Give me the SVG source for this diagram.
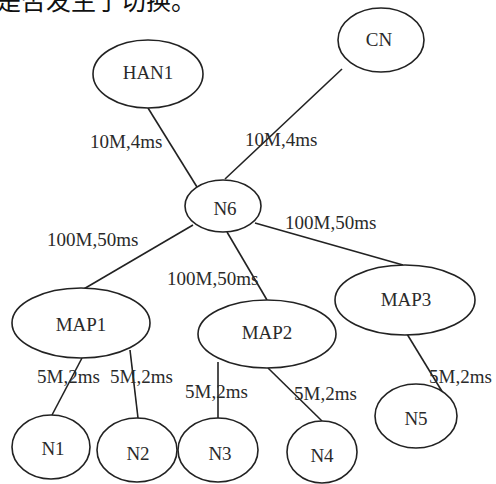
<svg xmlns="http://www.w3.org/2000/svg" width="496" height="484" viewBox="0 0 496 484">
  <style>
    .node ellipse { fill: #ffffff; stroke: #222222; stroke-width: 1.6; }
    .node text { font-family: "Liberation Serif", "Times New Roman", serif; font-size: 19px; fill: #2a2a2a; text-anchor: middle; }
    .edges line { stroke: #222222; stroke-width: 1.6; }
    .lbl { font-family: "Liberation Serif", "Times New Roman", serif; font-size: 19px; fill: #2a2a2a; }
    .caption { font-family: "Noto Sans CJK SC", "Noto Sans", sans-serif; font-size: 25px; fill: #111111; }
  </style>
  <rect width="496" height="484" fill="#ffffff"/>

  <!-- tail of the preceding sentence, clipped by the top edge -->
  <text class="caption" x="-4" y="10">是否发生了切换。</text>

  <!-- links -->
  <g id="edges" class="edges">
    <line x1="148" y1="108" x2="197" y2="187"/>
    <line x1="342" y1="69" x2="225" y2="179"/>
    <line x1="193" y1="225" x2="82" y2="290"/>
    <line x1="227" y1="232" x2="267" y2="300"/>
    <line x1="255" y1="223" x2="403" y2="265"/>
    <line x1="82" y1="358" x2="52" y2="415"/>
    <line x1="130" y1="350" x2="138" y2="418"/>
    <line x1="218" y1="362" x2="218" y2="418"/>
    <line x1="268" y1="368" x2="322" y2="421"/>
    <line x1="407" y1="334" x2="443" y2="393"/>
  </g>

  <!-- link labels: bandwidth, delay -->
  <g id="edge-labels">
    <text class="lbl" x="90" y="148">10M,4ms</text>
    <text class="lbl" x="245" y="146">10M,4ms</text>
    <text class="lbl" x="47" y="246">100M,50ms</text>
    <text class="lbl" x="167" y="285">100M,50ms</text>
    <text class="lbl" x="285" y="229">100M,50ms</text>
    <text class="lbl" x="37" y="383">5M,2ms</text>
    <text class="lbl" x="110" y="383">5M,2ms</text>
    <text class="lbl" x="185" y="398">5M,2ms</text>
    <text class="lbl" x="294" y="400">5M,2ms</text>
    <text class="lbl" x="429" y="383">5M,2ms</text>
  </g>

  <!-- nodes -->
  <g id="CN" class="node"><ellipse cx="381" cy="40" rx="43" ry="32"/><text x="379" y="46">CN</text></g>
  <g id="HAN1" class="node"><ellipse cx="148" cy="74" rx="55" ry="34"/><text x="148" y="79">HAN1</text></g>
  <g id="N6" class="node"><ellipse cx="223" cy="206" rx="38" ry="26"/><text x="225" y="215">N6</text></g>
  <g id="MAP1" class="node"><ellipse cx="81" cy="323" rx="69" ry="35"/><text x="81" y="331">MAP1</text></g>
  <g id="MAP2" class="node"><ellipse cx="267" cy="334" rx="69" ry="34"/><text x="267" y="339">MAP2</text></g>
  <g id="MAP3" class="node"><ellipse cx="405" cy="300" rx="70" ry="35"/><text x="406" y="306">MAP3</text></g>
  <g id="N1" class="node"><ellipse cx="51" cy="447" rx="39" ry="32"/><text x="53" y="455">N1</text></g>
  <g id="N2" class="node"><ellipse cx="137" cy="450" rx="40" ry="32"/><text x="138" y="460">N2</text></g>
  <g id="N3" class="node"><ellipse cx="218" cy="450" rx="40" ry="32"/><text x="220" y="460">N3</text></g>
  <g id="N4" class="node"><ellipse cx="322" cy="452" rx="35" ry="31"/><text x="322" y="462">N4</text></g>
  <g id="N5" class="node"><ellipse cx="416" cy="416" rx="41" ry="32"/><text x="416" y="425">N5</text></g>
</svg>
